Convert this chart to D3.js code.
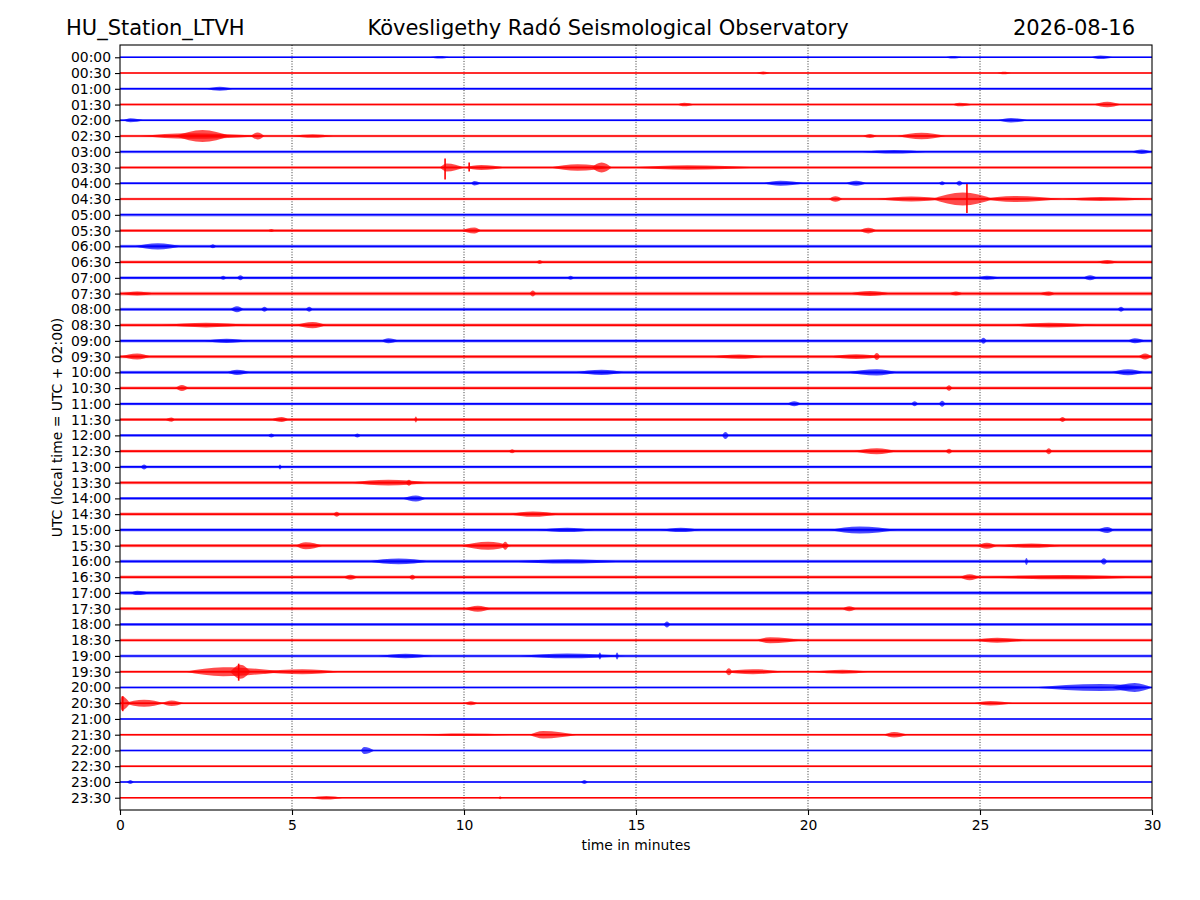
<!DOCTYPE html>
<html>
<head>
<meta charset="utf-8">
<script src="https://cdn.jsdelivr.net/npm/d3@7"></script>
<style>
  html, body { margin: 0; padding: 0; background: #fff; }
  text { font-family: "DejaVu Sans", sans-serif; }
</style>
</head>
<body>
<svg id="chart" width="1200" height="900"></svg>
<script>
// ---------------- DATA ----------------
const stationTitle = "HU_Station_LTVH";
const mainTitle = "Kövesligethy Radó Seismological Observatory";
const dateTitle = "2026-08-16";
const xLabel = "time in minutes";
const yLabel = "UTC (local time = UTC + 02:00)";

const rowLabels = ["00:00","00:30","01:00","01:30","02:00","02:30","03:00","03:30",
  "04:00","04:30","05:00","05:30","06:00","06:30","07:00","07:30",
  "08:00","08:30","09:00","09:30","10:00","10:30","11:00","11:30",
  "12:00","12:30","13:00","13:30","14:00","14:30","15:00","15:30",
  "16:00","16:30","17:00","17:30","18:00","18:30","19:00","19:30",
  "20:00","20:30","21:00","21:30","22:00","22:30","23:00","23:30"];

const xTicks = [0, 5, 10, 15, 20, 25, 30];

// background noise half-amplitude per row (relative units)
const baseNoise = [0.8,0.8,1.2,1.0,1.0,1.2,1.5,1.3,
  1.3,1.2,1.6,1.3,1.5,1.5,1.5,1.8,
  1.7,1.6,1.6,1.6,1.7,1.5,1.3,1.5,
  1.3,1.5,1.4,1.5,1.3,1.6,1.6,1.6,
  1.6,1.7,1.8,1.6,1.5,1.5,1.5,1.3,
  0.9,1.0,0.8,1.0,0.8,1.0,0.8,0.8];

// bursts: [row, start min, peak min, end min, amplitude]
const bursts = [
  [0,28.2,28.5,28.9,1.8],[0,9.0,9.3,9.6,1.3],[0,24.0,24.2,24.5,1.3],
  [1,18.5,18.7,18.9,1.5],[1,25.5,25.7,25.9,1.3],
  [2,2.5,2.9,3.3,2.0],
  [3,16.2,16.4,16.7,1.8],[3,24.2,24.4,24.8,1.8],[3,28.3,28.7,29.1,2.8],
  [4,0.1,0.3,0.7,2.0],[4,25.5,25.9,26.4,2.3],
  [5,0.6,2.0,4.2,2.8],[5,1.6,2.4,3.2,6.0],[5,3.8,4.0,4.2,3.5],[5,5.0,5.6,6.2,1.8],[5,22.6,23.3,24.0,3.2],[5,21.6,21.8,22.0,2.0],
  [6,21.5,22.5,23.5,1.8],[6,29.4,29.7,30,2.3],
  [7,9.3,9.5,10.0,4],[7,10.0,10.5,11.2,2.5],[7,12.5,13.3,14.3,3.2],[7,13.7,14.0,14.3,5],[7,14.8,16.5,18.7,2.2],
  [8,10.2,10.3,10.5,2.3],[8,18.7,19.2,19.9,2.5],[8,21.1,21.4,21.7,2.5],[8,23.8,23.9,24.0,2],[8,24.3,24.4,24.5,2.5],
  [9,20.6,20.8,21.0,2.8],[9,22.0,23.0,24.0,2.5],[9,23.6,24.5,25.4,6.5],[9,25.0,26.0,27.4,3],[9,27.4,28.5,30,2],
  [11,9.9,10.3,10.5,3],[11,21.5,21.75,22.0,2.8],[11,4.3,4.4,4.5,1.5],
  [12,0.4,1.1,1.8,3.2],[12,2.6,2.7,2.8,2],
  [13,12.1,12.2,12.3,2],[13,28.4,28.7,29.0,2],
  [14,2.9,3.0,3.1,2],[14,3.4,3.5,3.6,2.5],[14,13.0,13.1,13.2,2],[14,24.9,25.2,25.6,2],[14,28.0,28.2,28.4,2.5],
  [15,0,0.5,1.0,2],[15,11.9,12.0,12.1,3],[15,21.2,21.8,22.4,2.5],[15,24.1,24.3,24.5,2],[15,26.7,27.0,27.2,2.2],
  [16,3.2,3.4,3.6,3],[16,4.1,4.2,4.3,2.5],[16,5.4,5.5,5.6,2.5],[16,29.0,29.1,29.2,2.5],
  [17,1.2,2.5,3.8,2.3],[17,5.1,5.6,6.0,3.2],[17,25.8,27,28.4,2.4],
  [18,2.4,3.1,3.8,2.2],[18,7.6,7.8,8.1,2.5],[18,25.0,25.1,25.2,3],[18,29.3,29.5,29.8,2.5],
  [19,0,0.5,0.9,3],[19,17.1,18,18.8,2.2],[19,20.6,21.4,22.2,2.4],[19,21.9,22.0,22.1,3.5],[19,29.6,29.8,30,3],
  [20,3.1,3.4,3.8,2.7],[20,13.2,14,14.7,2.6],[20,21.1,22.0,22.6,3.2],[20,28.8,29.3,29.8,3],
  [21,1.6,1.8,2.0,3],[21,24.0,24.1,24.2,2.8],
  [22,19.4,19.6,19.8,2.5],[22,23.0,23.1,23.2,2.5],[22,23.8,23.9,24.0,3],
  [23,1.3,1.5,1.6,2.2],[23,4.4,4.7,4.9,2.5],[23,8.55,8.6,8.65,3],[23,27.3,27.4,27.5,2.5],
  [24,4.3,4.4,4.5,2],[24,6.8,6.9,7.0,2],[24,17.5,17.6,17.7,3.5],
  [25,21.3,22,22.6,3],[25,24.0,24.1,24.2,2.5],[25,26.9,27.0,27.1,3],[25,11.3,11.4,11.5,2],
  [26,0.6,0.7,0.8,2.5],[26,4.6,4.65,4.7,2.5],
  [27,6.7,7.8,9.0,2.8],[27,8.3,8.4,8.5,3],
  [28,8.2,8.6,8.9,3],
  [29,6.2,6.3,6.4,2.5],[29,11.3,12.0,12.8,2.7],
  [30,12.1,13,13.8,2.2],[30,15.7,16.3,16.9,2.2],[30,20.6,21.5,22.6,3.5],[30,28.4,28.7,28.9,3],
  [31,5.1,5.4,5.9,3.5],[31,9.9,10.7,11.4,4],[31,11.1,11.2,11.3,4],[31,24.9,25.2,25.5,3],[31,25.5,26.5,27.4,2.2],
  [32,7.2,8.1,9.0,2.8],[32,11.3,13,14.7,2.2],[32,26.3,26.35,26.4,3.5],[32,28.5,28.6,28.7,3.2],
  [33,6.5,6.7,6.9,2.5],[33,8.4,8.5,8.6,2.5],[33,24.4,24.7,25.0,3],[33,25.0,27.5,29.8,2.2],
  [34,0.3,0.5,0.9,2.2],
  [35,10.0,10.4,10.8,3],[35,21.0,21.2,21.4,2.5],
  [36,15.8,15.9,16.0,3],
  [37,18.5,18.9,19.9,3],[37,24.8,25.5,26.4,2.5],
  [38,7.5,8.3,9.1,2.2],[38,11.6,13,14.7,2.4],[38,13.9,13.95,14.0,3.5],[38,14.4,14.45,14.5,3.5],
  [39,1.9,3.0,4.8,4.5],[39,3.2,3.5,3.8,7],[39,4.0,5.3,6.4,2.5],[39,17.5,18.4,19.3,2.5],[39,17.6,17.7,17.8,3.5],[39,20.1,21,21.8,2],
  [40,26.5,28.5,30,3.5],[40,28.8,29.5,30,4.5],
  [41,0,0.05,0.3,7],[41,0.1,0.7,1.3,3.5],[41,1.2,1.5,1.85,2.8],[41,10.0,10.2,10.4,2],[41,24.8,25.3,26.0,2.2],
  [43,11.9,12.3,13.3,3.8],[43,22.2,22.5,22.9,2.8],[43,8.5,10,11.5,1.3],
  [44,7.0,7.1,7.4,3.5],
  [46,0.2,0.3,0.4,2],[46,13.4,13.5,13.6,2],
  [47,5.5,6,6.5,1.8],[47,11.0,11.05,11.1,1.5]
];

// sharp spikes: [row, minute, upward amplitude, downward amplitude]
const spikes = [
  [7,9.45,9,12],[7,10.15,5,4],
  [9,24.62,15,14],
  [39,3.45,8,9],
  [41,0.08,7,8]
];

const traceColors = ["#0000ff", "#ff0000"];

// ---------------- LAYOUT ----------------
const svg = d3.select("#chart");
const pL = 120, pR = 1152, pT = 45, pB = 810;

const x = d3.scaleLinear().domain([0, 30]).range([pL, pR]);
const y = d3.scalePoint().domain(rowLabels).range([pT, pB]).padding(0.78);
const amp = d3.scaleLinear().domain([0, 1]).range([0, 1]); // 1 unit -> 1 px

svg.append("rect").attr("width", 1200).attr("height", 900).attr("fill", "#fff");

svg.append("defs").append("clipPath").attr("id", "plotclip")
  .append("rect").attr("x", pL).attr("y", pT).attr("width", pR - pL).attr("height", pB - pT);

// grid lines
const grid = svg.append("g");
grid.selectAll("line").data(xTicks.filter(t => t > 0 && t < 30)).join("line")
  .attr("x1", d => x(d)).attr("x2", d => x(d))
  .attr("y1", pT).attr("y2", pB)
  .attr("stroke", "#000").attr("stroke-width", 0.8)
  .attr("stroke-dasharray", "1,1.65");

const traces = svg.append("g").attr("clip-path", "url(#plotclip)");

const band = d3.area()
  .x(d => x(d[0]))
  .y0(d => d[1] + amp(d[2]))
  .y1(d => d[1] - amp(d[2]));
const burstArea = d3.area()
  .curve(d3.curveMonotoneX)
  .x(d => x(d[0]))
  .y0(d => d[1] + amp(d[2]))
  .y1(d => d[1] - amp(d[2]));

rowLabels.forEach((lab, i) => {
  const cy = y(lab);
  const col = traceColors[i % 2];
  const g = traces.append("g");
  g.append("path")
    .attr("d", band([[0, cy, baseNoise[i]], [30, cy, baseNoise[i]]]))
    .attr("fill", col).attr("fill-opacity", 0.4);
  bursts.filter(b => b[0] === i).forEach(b => {
    g.append("path")
      .attr("d", burstArea([[b[1], cy, 0], [b[2], cy, b[4]], [b[3], cy, 0]]))
      .attr("fill", col).attr("fill-opacity", 0.7);
  });
  g.append("line")
    .attr("x1", x(0)).attr("x2", x(30))
    .attr("y1", cy).attr("y2", cy)
    .attr("stroke", col).attr("stroke-width", 1.6);
  spikes.filter(s => s[0] === i).forEach(s => {
    g.append("line")
      .attr("x1", x(s[1])).attr("x2", x(s[1]))
      .attr("y1", cy - amp(s[2])).attr("y2", cy + amp(s[3]))
      .attr("stroke", col).attr("stroke-width", 1.6);
  });
});

// axes
const xAxis = d3.axisBottom(x).tickValues(xTicks).tickFormat(d3.format("d")).tickSize(5).tickPadding(5);
const gx = svg.append("g").attr("transform", `translate(0,${pB})`).call(xAxis);
const yAxis = d3.axisLeft(y).tickSize(5).tickPadding(4);
const gy = svg.append("g").attr("transform", `translate(${pL},0)`).call(yAxis);
[gx, gy].forEach(g => {
  g.selectAll("text").attr("font-size", "13.9px").attr("font-family", "DejaVu Sans").attr("fill", "#000");
  g.selectAll("line").attr("stroke", "#000").attr("stroke-width", 1.1);
  g.select(".domain").remove();
});

// frame
svg.append("rect").attr("x", pL).attr("y", pT).attr("width", pR - pL).attr("height", pB - pT)
  .attr("fill", "none").attr("stroke", "#000").attr("stroke-width", 1.1);

// labels
svg.append("text").attr("x", (pL + pR) / 2).attr("y", 850)
  .attr("text-anchor", "middle").attr("font-size", "13.9px").text(xLabel);
svg.append("text").attr("transform", `translate(62,${(pT + pB) / 2}) rotate(-90)`)
  .attr("text-anchor", "middle").attr("font-size", "13.9px").text(yLabel);

// titles
svg.append("text").attr("x", 66).attr("y", 35).attr("font-size", "21px").text(stationTitle);
svg.append("text").attr("x", 608).attr("y", 35).attr("text-anchor", "middle").attr("font-size", "21px").text(mainTitle);
svg.append("text").attr("x", 1135).attr("y", 35).attr("text-anchor", "end").attr("font-size", "21px").text(dateTitle);
</script>
</body>
</html>
